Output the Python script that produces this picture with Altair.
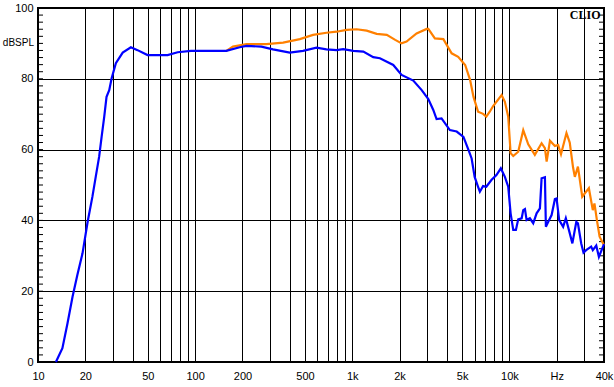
import altair as alt
import pandas as pd

# ---- data ----
BLUE_FREQ = [13.0, 14.3, 15.4, 16.6, 17.8, 19.2, 20.7, 22.2, 23.3, 24.5, 25.4, 26.4, 27.3, 28.4,
             29.4, 31.3, 34.6, 39.0, 43, 49.8, 66.8, 77.4, 94, 158, 192, 212, 264, 313, 400, 486,
             592, 685, 794, 876, 1015, 1176, 1360, 1500, 1824, 2060, 2445, 2766, 3048, 3278, 3440,
             3700, 4180, 4620, 5100, 5490, 5750, 6010, 6320, 6490, 6800, 7130, 7680, 8270, 8820,
             9360, 9830, 10180, 10580, 11000, 11380, 11970, 12250, 12560, 12870, 13500, 14180,
             14900, 15640, 16030, 16830, 17070, 17670, 18560, 19480, 19970, 20740, 21980, 22860,
             24210, 25160, 26660, 27300, 28650, 29630, 30800, 33150, 33950, 35710, 37120, 40000]
BLUE_DB = [0, 3.9, 10.9, 18.5, 24.6, 30.7, 39.6, 46.7, 52.3, 58, 63.6, 69.3, 74.9, 76.8,
           80.1, 84.4, 87.4, 88.9, 88.1, 86.7, 86.7, 87.5, 87.9, 87.9, 88.9, 89.3, 89.1, 88.3, 87.4, 87.9,
           88.8, 88.3, 88.1, 88.4, 87.9, 87.7, 86.1, 85.8, 83.9, 81.1, 79.5, 76.8, 74.3, 71.2, 68.6,
           68.8, 65.5, 65.1, 63.6, 59.9, 57.5, 52.3, 49.5, 48.1, 49.7, 49.5, 51.4, 52.8, 54.7,
           52.3, 49.5, 42.0, 37.3, 37.3, 40.3, 40.6, 42.9, 43.2, 40.1, 40.6, 39.2,
           42.0, 43.4, 51.9, 52.2, 38.2, 39.6, 41.5, 46.0, 46.2, 40.1, 38.2, 40.6,
           36.4, 33.5, 39.6, 39.2, 33.5, 30.9, 31.6, 32.6, 31.6, 32.9, 29.7, 33.3]

ORANGE_FREQ = [158, 174, 212, 284, 363, 464, 563, 685, 794, 920, 1066, 1235, 1430, 1658, 1876,
               2060, 2215, 2566, 2976, 3048, 3356, 3800, 4290, 4720, 5230, 5620, 5910, 6320, 6800,
               7130, 7500, 7880, 8920, 9360, 9830, 10180, 10580, 11380, 12250, 13180, 14520, 16030,
               16830, 17260, 18120, 19480, 20430, 21300, 23080, 24210, 25410, 26090, 27300, 29080,
               32050, 33950, 34780, 36050, 37500, 40000]
ORANGE_DB = [87.9, 89.1, 89.8, 89.8, 90.2, 91.2, 92.4, 93.0, 93.3, 93.8, 94.0, 93.6, 92.7, 92.4, 91.0,
             90.0, 90.5, 92.8, 94.1, 94.1, 91.4, 91.2, 87.2, 86.2, 83.9, 79.7, 74.9, 70.7, 70.1,
             69.3, 70.7, 72.3, 75.4, 73.5, 69.3, 59.0, 58.2, 59.4, 65.5, 61.5, 58.5, 61.8,
             60.4, 56.6, 62.5, 61.0, 61.3, 58.7, 64.7, 62.0, 55.0, 52.3, 55.2, 46.7,
             49.1, 42.9, 44.8, 40.1, 35.4, 33.0]

X_GRID = [10, 20, 30, 40, 50, 60, 70, 80, 90, 100, 200, 300, 400, 500, 600, 700, 800, 900,
          1000, 2000, 3000, 4000, 5000, 6000, 7000, 8000, 9000, 10000, 20000, 30000, 40000]
X_LABEL_VALUES = [10, 20, 50, 100, 200, 500, 1000, 2000, 5000, 10000, 20000, 40000]
X_LABEL_TEXTS = ["10", "20", "50", "100", "200", "500", "1k", "2k", "5k", "10k", "Hz", "40k"]

Y_GRID = [0, 10, 20, 30, 40, 50, 60, 70, 80, 90, 100]
Y_LABEL_VALUES = [0, 20, 40, 60, 80, 100]
Y_LABEL_TEXTS = ["0", "20", "40", "60", "80", "100"]
Y_UNIT = "dBSPL"
Y_UNIT_AT = 90
Y_MINOR = [v for v in range(0, 101, 2)]

BRAND = "CLIO"

# ---- build tables ----
blue = pd.DataFrame({"f": BLUE_FREQ, "db": BLUE_DB})
orange = pd.DataFrame({"f": ORANGE_FREQ, "db": ORANGE_DB})
minor = pd.DataFrame({"v": Y_MINOR})
brand = pd.DataFrame({"f": [38000], "db": [98.0], "t": [BRAND]})
unit = pd.DataFrame({"f": [10], "db": [Y_UNIT_AT], "t": [Y_UNIT]})


def expr(values, texts):
    s = "''"
    for v, t in zip(values, texts):
        s = f"datum.value == {v} ? '{t}' : ({s})"
    return s


W, H = 566, 354
xscale = alt.Scale(type="log", domain=[10, 40000], nice=False)
yscale = alt.Scale(domain=[0, 100], nice=False)

xaxis = alt.Axis(values=X_GRID, labelExpr=expr(X_LABEL_VALUES, X_LABEL_TEXTS), grid=True,
                 gridColor="black", gridOpacity=1, gridWidth=1, ticks=False, domain=False,
                 labelOverlap=False, labelFlush=False, labelFont="Liberation Sans",
                 labelFontSize=11, labelColor="black", labelPadding=8, title=None)
yaxis = alt.Axis(values=Y_GRID, labelExpr=expr(Y_LABEL_VALUES, Y_LABEL_TEXTS), grid=True,
                 gridColor="black", gridOpacity=1, gridWidth=1, ticks=False, domain=False,
                 labelOverlap=False, labelFlush=False, labelFont="Liberation Sans",
                 labelFontSize=11, labelColor="black", labelPadding=5, title=None)

base_o = alt.Chart(orange).mark_line(color="#FF8000", strokeWidth=2.2).encode(
    x=alt.X("f:Q", scale=xscale, axis=xaxis),
    y=alt.Y("db:Q", scale=yscale, axis=yaxis),
)
line_b = alt.Chart(blue).mark_line(color="#0000FF", strokeWidth=2.2).encode(
    x=alt.X("f:Q", scale=xscale),
    y=alt.Y("db:Q", scale=yscale),
)
ticks_l = alt.Chart(minor).mark_rule(color="black", strokeWidth=1).encode(
    y=alt.Y("v:Q", scale=yscale), x=alt.value(0), x2=alt.value(5))
ticks_r = alt.Chart(minor).mark_rule(color="black", strokeWidth=1).encode(
    y=alt.Y("v:Q", scale=yscale), x=alt.value(W - 5), x2=alt.value(W))
label = alt.Chart(brand).mark_text(font="Liberation Serif", fontWeight="bold", fontSize=12,
                                   align="right", baseline="middle", color="black").encode(
    x=alt.X("f:Q", scale=xscale), y=alt.Y("db:Q", scale=yscale), text="t:N")
unit_txt = alt.Chart(unit).mark_text(font="Liberation Sans", fontSize=10, align="right",
                                     baseline="middle", color="black", dx=-4).encode(
    x=alt.X("f:Q", scale=xscale), y=alt.Y("db:Q", scale=yscale), text="t:N")

chart = alt.layer(ticks_l, ticks_r, base_o, line_b, label, unit_txt).properties(
    width=W, height=H,
    autosize=alt.AutoSizeParams(type="none"),
    padding={"left": 38, "top": 8, "right": 10, "bottom": 25},
    background="white",
).configure_view(stroke="black", strokeWidth=2, clip=False)

chart.save("out.html", embed_options={"renderer": "svg", "actions": False})
